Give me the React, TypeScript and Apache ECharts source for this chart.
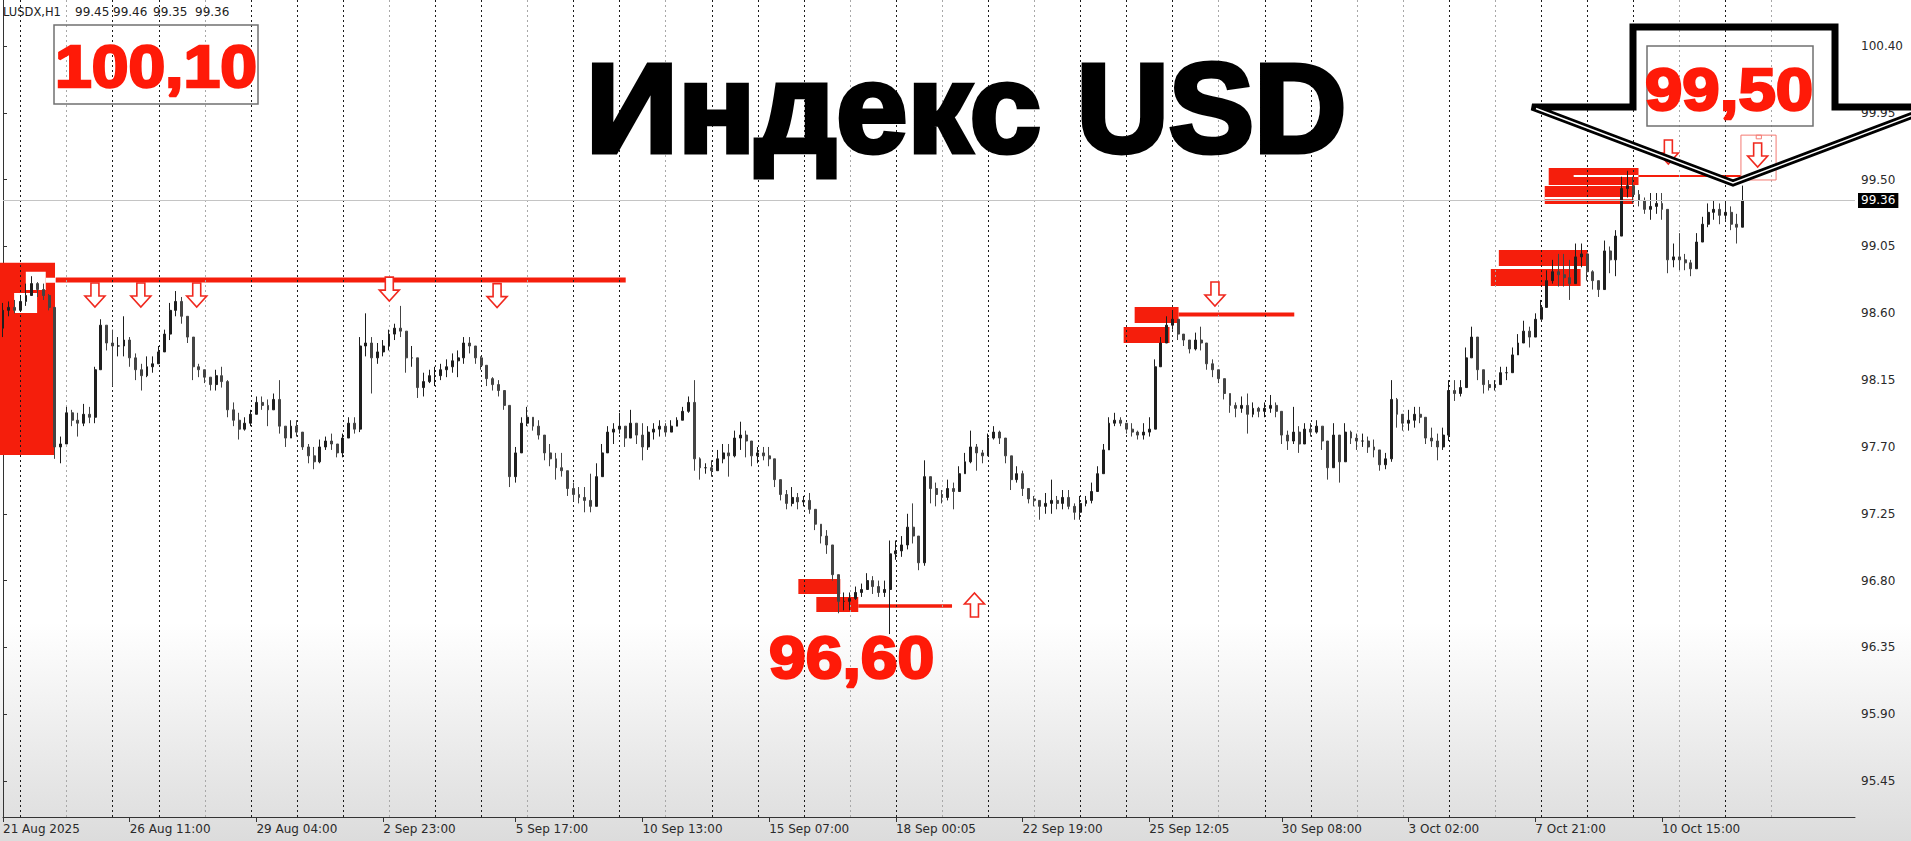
import React, { useEffect, useRef } from "react";
import * as echarts from "echarts";

// ---- price data: one candle per 3-hour slot (USDX) ----
const closes = [
  98.62, 98.64, 98.62, 98.68, 98.72, 98.80, 98.76, 98.72, 98.64, 97.70,
  97.72, 97.93, 97.88, 97.86, 97.92, 97.90, 98.22, 98.52, 98.40, 98.38,
  98.38, 98.42, 98.30, 98.22, 98.18, 98.24, 98.26, 98.34, 98.46, 98.62,
  98.68, 98.58, 98.44, 98.24, 98.22, 98.17, 98.12, 98.18, 98.14, 97.95,
  97.88, 97.82, 97.86, 97.92, 98.00, 97.98, 97.95, 98.02, 97.84, 97.76,
  97.84, 97.80, 97.70, 97.64, 97.60, 97.70, 97.74, 97.72, 97.66, 97.76,
  97.86, 97.82, 98.38, 98.40, 98.30, 98.34, 98.38, 98.46, 98.50, 98.48,
  98.30, 98.30, 98.10, 98.14, 98.18, 98.18, 98.22, 98.24, 98.28, 98.30,
  98.40, 98.38, 98.30, 98.25, 98.16, 98.12, 98.08, 97.98, 97.50, 97.66,
  97.86, 97.90, 97.84, 97.78, 97.66, 97.62, 97.56, 97.54, 97.42, 97.38,
  97.36, 97.34, 97.30, 97.50, 97.66, 97.80, 97.82, 97.84, 97.76, 97.86,
  97.78, 97.70, 97.80, 97.82, 97.84, 97.80, 97.84, 97.88, 97.94, 98.00,
  97.62, 97.56, 97.56, 97.54, 97.62, 97.66, 97.64, 97.76, 97.78, 97.74,
  97.64, 97.66, 97.64, 97.62, 97.48, 97.38, 97.32, 97.36, 97.33, 97.34,
  97.28, 97.18, 97.10, 97.04, 96.84, 96.66, 96.66, 96.68, 96.72, 96.74,
  96.80, 96.76, 96.72, 96.74, 96.98, 97.00, 97.04, 97.16, 97.10, 96.92,
  97.50, 97.42, 97.38, 97.36, 97.42, 97.40, 97.52, 97.60, 97.70, 97.66,
  97.64, 97.76, 97.80, 97.76, 97.64, 97.48, 97.52, 97.42, 97.35, 97.34,
  97.30, 97.32, 97.34, 97.32, 97.36, 97.30, 97.26, 97.32, 97.34, 97.40,
  97.52, 97.68, 97.86, 97.88, 97.86, 97.82, 97.80, 97.78, 97.80, 97.82,
  98.24, 98.40, 98.52, 98.56, 98.46, 98.42, 98.36, 98.42, 98.40, 98.26,
  98.22, 98.16, 98.06, 97.98, 97.96, 97.98, 97.92, 97.96, 97.94, 97.96,
  97.98, 97.94, 97.78, 97.74, 97.80, 97.72, 97.82, 97.80, 97.84, 97.74,
  97.56, 97.78, 97.60, 97.80, 97.76, 97.74, 97.74, 97.70, 97.68, 97.58,
  97.62, 98.02, 97.92, 97.86, 97.88, 97.92, 97.90, 97.76, 97.74, 97.70,
  97.78, 98.08, 98.06, 98.10, 98.30, 98.44, 98.22, 98.12, 98.10, 98.12,
  98.20, 98.20, 98.32, 98.40, 98.48, 98.44, 98.56, 98.64, 98.82, 98.88,
  98.86, 98.84, 98.80, 98.98, 99.00, 98.88, 98.82, 98.76, 99.02, 98.96,
  99.12, 99.44, 99.46, 99.40, 99.36, 99.30, 99.32, 99.34, 99.30, 98.96,
  98.98, 98.96, 98.94, 98.90, 99.08, 99.20, 99.28, 99.30, 99.26, 99.28,
  99.20, 99.18, 99.36,
];
const highs = [
  98.67, 98.68, 98.69, 98.71, 98.80, 98.85, 98.81, 98.80, 98.73, 98.64,
  97.77, 97.97, 97.95, 97.93, 97.99, 97.97, 98.24, 98.56, 98.51, 98.49,
  98.44, 98.58, 98.44, 98.33, 98.26, 98.31, 98.31, 98.38, 98.49, 98.67,
  98.75, 98.71, 98.58, 98.44, 98.26, 98.22, 98.17, 98.22, 98.24, 98.15,
  98.00, 97.93, 97.90, 97.95, 98.04, 98.04, 98.02, 98.06, 98.15, 97.82,
  97.88, 97.88, 97.77, 97.72, 97.70, 97.75, 97.77, 97.79, 97.72, 97.79,
  97.90, 97.90, 98.44, 98.60, 98.44, 98.40, 98.42, 98.49, 98.53, 98.65,
  98.44, 98.38, 98.24, 98.20, 98.22, 98.24, 98.26, 98.29, 98.33, 98.35,
  98.44, 98.44, 98.38, 98.31, 98.24, 98.17, 98.15, 98.06, 97.98, 97.70,
  97.90, 97.97, 97.90, 97.88, 97.75, 97.72, 97.66, 97.66, 97.48, 97.46,
  97.43, 97.43, 97.52, 97.59, 97.72, 97.84, 97.86, 97.93, 97.84, 97.95,
  97.86, 97.86, 97.84, 97.86, 97.88, 97.86, 97.88, 97.90, 97.97, 98.04,
  98.15, 97.63, 97.59, 97.61, 97.68, 97.72, 97.72, 97.81, 97.87, 97.81,
  97.72, 97.70, 97.70, 97.70, 97.59, 97.46, 97.41, 97.43, 97.39, 97.37,
  97.39, 97.28, 97.16, 97.14, 97.01, 96.84, 96.72, 96.72, 96.76, 96.78,
  96.85, 96.83, 96.80, 96.80, 97.07, 97.07, 97.10, 97.25, 97.32, 97.07,
  97.61, 97.50, 97.46, 97.41, 97.48, 97.46, 97.57, 97.66, 97.81, 97.72,
  97.68, 97.79, 97.84, 97.81, 97.72, 97.57, 97.57, 97.54, 97.37, 97.37,
  97.34, 97.39, 97.48, 97.37, 97.41, 97.41, 97.32, 97.37, 97.37, 97.46,
  97.57, 97.72, 97.90, 97.93, 97.90, 97.86, 97.86, 97.81, 97.86, 97.90,
  98.29, 98.44, 98.58, 98.62, 98.56, 98.44, 98.42, 98.47, 98.51, 98.35,
  98.29, 98.22, 98.15, 98.02, 98.00, 98.04, 98.06, 98.00, 97.97, 98.00,
  98.05, 98.00, 97.90, 97.81, 97.97, 97.84, 97.86, 97.86, 97.88, 97.84,
  97.72, 97.86, 97.72, 97.86, 97.81, 97.79, 97.79, 97.77, 97.75, 97.66,
  97.66, 98.15, 98.03, 97.92, 97.95, 97.97, 97.97, 97.86, 97.83, 97.79,
  97.83, 98.15, 98.15, 98.15, 98.37, 98.51, 98.37, 98.19, 98.15, 98.15,
  98.24, 98.24, 98.37, 98.46, 98.55, 98.51, 98.60, 98.69, 98.89, 98.96,
  99.00, 99.00, 98.96, 99.07, 99.07, 99.00, 98.89, 98.82, 99.09, 99.05,
  99.16, 99.52, 99.56, 99.52, 99.43, 99.38, 99.41, 99.41, 99.41, 99.23,
  99.07, 99.14, 99.00, 98.96, 99.14, 99.25, 99.34, 99.36, 99.34, 99.36,
  99.32, 99.27, 99.46,
];
const lows = [
  98.44, 98.58, 98.60, 98.62, 98.65, 98.73, 98.71, 98.69, 98.62, 97.62,
  97.59, 97.84, 97.84, 97.77, 97.84, 97.86, 97.86, 98.22, 98.35, 98.11,
  98.31, 98.31, 98.24, 98.15, 98.08, 98.17, 98.20, 98.26, 98.35, 98.42,
  98.58, 98.53, 98.40, 98.15, 98.17, 98.13, 98.08, 98.08, 98.10, 97.90,
  97.84, 97.75, 97.81, 97.84, 97.93, 97.95, 97.84, 97.95, 97.79, 97.70,
  97.77, 97.77, 97.68, 97.59, 97.55, 97.59, 97.68, 97.68, 97.63, 97.63,
  97.79, 97.79, 97.80, 98.31, 98.06, 98.26, 98.31, 98.35, 98.42, 98.44,
  98.20, 98.24, 98.03, 98.04, 98.13, 98.11, 98.15, 98.17, 98.20, 98.17,
  98.26, 98.33, 98.26, 98.22, 98.11, 98.08, 98.04, 97.95, 97.43, 97.46,
  97.66, 97.84, 97.81, 97.75, 97.61, 97.57, 97.48, 97.50, 97.37, 97.34,
  97.32, 97.26, 97.26, 97.34, 97.54, 97.70, 97.72, 97.79, 97.70, 97.77,
  97.72, 97.61, 97.68, 97.75, 97.77, 97.77, 97.81, 97.84, 97.88, 97.93,
  97.54, 97.48, 97.52, 97.50, 97.57, 97.59, 97.50, 97.63, 97.68, 97.63,
  97.57, 97.59, 97.61, 97.57, 97.43, 97.34, 97.28, 97.30, 97.28, 97.30,
  97.25, 97.14, 97.05, 96.98, 96.80, 96.58, 96.60, 96.60, 96.67, 96.69,
  96.74, 96.71, 96.69, 96.69, 96.44, 96.94, 96.96, 97.01, 97.05, 96.87,
  96.90, 97.32, 97.30, 97.32, 97.34, 97.28, 97.41, 97.52, 97.59, 97.54,
  97.59, 97.68, 97.75, 97.72, 97.59, 97.41, 97.46, 97.37, 97.32, 97.30,
  97.21, 97.25, 97.25, 97.28, 97.28, 97.28, 97.21, 97.21, 97.30, 97.32,
  97.46, 97.57, 97.68, 97.84, 97.84, 97.79, 97.77, 97.75, 97.75, 97.77,
  97.88, 98.26, 98.40, 98.49, 98.42, 98.38, 98.33, 98.35, 98.35, 98.22,
  98.17, 98.13, 98.02, 97.93, 97.90, 97.93, 97.79, 97.90, 97.90, 97.90,
  97.93, 97.90, 97.72, 97.68, 97.72, 97.66, 97.75, 97.77, 97.79, 97.68,
  97.48, 97.59, 97.46, 97.68, 97.72, 97.68, 97.70, 97.66, 97.63, 97.54,
  97.55, 97.60, 97.83, 97.81, 97.81, 97.83, 97.86, 97.72, 97.70, 97.61,
  97.68, 97.74, 98.01, 98.04, 98.10, 98.33, 98.15, 98.06, 98.08, 98.08,
  98.13, 98.15, 98.24, 98.33, 98.42, 98.37, 98.46, 98.58, 98.71, 98.80,
  98.78, 98.78, 98.69, 98.87, 98.91, 98.82, 98.76, 98.71, 98.80, 98.87,
  98.85, 99.20, 99.38, 99.34, 99.32, 99.27, 99.23, 99.27, 99.23, 98.87,
  98.91, 98.89, 98.89, 98.85, 98.96, 99.09, 99.18, 99.23, 99.20, 99.23,
  99.16, 99.07, 99.18,
];
const firstOpen = 98.5;

// ---- axes ----
const priceTicks = [95.45, 95.9, 96.35, 96.8, 97.25, 97.7, 98.15, 98.6, 99.05, 99.5, 99.95, 100.4];
const timeTickSlots = [0, 22, 44, 66, 89, 111, 133, 155, 177, 199, 222, 244, 266, 288];
const timeTickLabels = [
  "21 Aug 2025", "26 Aug 11:00", "29 Aug 04:00", "2 Sep 23:00", "5 Sep 17:00",
  "10 Sep 13:00", "15 Sep 07:00", "18 Sep 00:05", "22 Sep 19:00", "25 Sep 12:05",
  "30 Sep 08:00", "3 Oct 02:00", "7 Oct 21:00", "10 Oct 15:00",
];
const daySeparatorSlots = [3, 19, 27, 43, 51, 59, 75, 83, 99, 107, 123, 131, 139, 155, 171, 187, 195, 203, 219, 227, 251, 267, 275, 283, 299];
const gridSeparatorSlots = [11, 35, 67, 91, 115, 147, 163, 179, 211, 235, 243, 259, 291, 307];
const lastPrice = 99.36;
const quoteOHLC = ["99.45", "99.46", "99.35", "99.36"];

// ---- annotations (slot, price) ----
const resistanceZones = [
  [-2, 9.03, 98.94, 97.646],
  [196.45, 204.07, 98.642, 98.535],
  [194.54, 202.5, 98.508, 98.4],
  [259.67, 275.08, 99.026, 98.918],
  [258.28, 273.87, 98.898, 98.784],
  [268.33, 283.92, 99.578, 99.464],
  [267.64, 283.05, 99.457, 99.336],
];
const supportZones = [
  [138.07, 145.35, 96.811, 96.71],
  [141.19, 148.47, 96.69, 96.589],
];
const whiteMarks = [
  [3.96, 7.42, 98.88, 98.757],
  [1.93, 5.92, 98.737, 98.602],
  [7.42, 9.15, 98.84, 98.806],
  [272.66, 283.92, 99.532, 99.518],
  [267.64, 283.05, 99.383, 99.369],
];
const levelLines = [
  [9.15, 108.1, 98.824],
  [204.07, 224.16, 98.592],
  [148.47, 164.75, 96.629],
  [283.92, 301.7, 99.525],
];
const sellArrows = [
  [15.96, 98.804], [23.93, 98.804], [33.63, 98.804], [67.06, 98.844], [85.77, 98.8],
  [210.39, 98.811], [289.1, 99.767], [304.6, 99.747],
];
const buyArrows = [[168.64, 96.555]];
const signalFrames = [
  [301.7, 307.8, 99.8, 99.498],
  [304.35, 305.25, 99.8, 99.775],
];
const levelLabels = ["100,10", "99,50", "96,60"];

const RED = "#f51e0c";
const LINE_WIDTHS = [5, 4, 3.5, 2];

function rectRenderer(fill: string, stroke?: string) {
  return (params: any, api: any) => {
    const a = api.coord([api.value(0), api.value(2)]);
    const b = api.coord([api.value(1), api.value(3)]);
    return {
      type: "rect",
      shape: {
        x: Math.min(a[0], b[0]),
        y: Math.min(a[1], b[1]),
        width: Math.abs(b[0] - a[0]),
        height: Math.abs(b[1] - a[1]),
      },
      style: stroke ? { fill: "none", stroke, lineWidth: 1 } : { fill },
    };
  };
}

function separatorRenderer(color: string) {
  return (params: any, api: any) => {
    const p = api.coord([api.value(0), 98]);
    const x = Math.round(p[0]) + 0.5;
    const cs = params.coordSys;
    return {
      type: "line",
      shape: { x1: x, y1: cs.y, x2: x, y2: cs.y + cs.height },
      style: { stroke: color, lineWidth: 1, lineDash: [2, 3] },
    };
  };
}

function arrowRenderer(dir: number) {
  return (params: any, api: any) => {
    const p = api.coord([api.value(0), api.value(1)]);
    const x = p[0];
    const y = p[1];
    const d = dir;
    return {
      type: "polygon",
      shape: {
        points: [
          [x - 4, y], [x + 4, y], [x + 4, y + 13 * d], [x + 10, y + 13 * d],
          [x, y + 24 * d], [x - 10, y + 13 * d], [x - 4, y + 13 * d],
        ],
      },
      style: { fill: "#fff", stroke: "#f0281e", lineWidth: 1.6 },
    };
  };
}

export default function App() {
  const ref = useRef<HTMLDivElement>(null);

  useEffect(() => {
    document.body.style.margin = "0";
    if (!ref.current) return;
    const chart = echarts.init(ref.current, null, { renderer: "svg" });

    const candleData = closes.map((c, i) => {
      const o = i === 0 ? firstOpen : closes[i - 1];
      return [i, o, c, Math.min(lows[i], o, c), Math.max(highs[i], o, c)];
    });

    const axisFont = { fontFamily: "DejaVu Sans", fontSize: 12, color: "#2a2a2a" };

    chart.setOption({
      animation: false,
      backgroundColor: {
        type: "linear", x: 0, y: 0, x2: 0, y2: 1,
        colorStops: [
          { offset: 0, color: "#ffffff" },
          { offset: 0.74, color: "#ffffff" },
          { offset: 1, color: "#dcdcdc" },
        ],
      },
      grid: { left: -1.15, right: 56, top: 0, bottom: 24, containLabel: false },
      xAxis: {
        type: "value",
        min: 0,
        max: 321.5,
        splitLine: { show: false },
        axisLine: { show: true, lineStyle: { color: "#333", width: 1 } },
        axisTick: { show: true, customValues: timeTickSlots, length: 5, lineStyle: { color: "#333" } },
        axisLabel: {
          ...axisFont,
          customValues: timeTickSlots,
          align: "left",
          margin: 6,
          formatter: (v: number) => {
            const k = timeTickSlots.indexOf(v);
            return k >= 0 ? timeTickLabels[k] : "";
          },
        },
      },
      yAxis: {
        type: "value",
        position: "right",
        min: 95.208,
        max: 100.71,
        scale: true,
        splitLine: { show: false },
        axisLine: { show: true, lineStyle: { color: "#333", width: 1 } },
        axisTick: { show: true, customValues: priceTicks, length: 4, lineStyle: { color: "#333" } },
        axisLabel: {
          ...axisFont,
          customValues: priceTicks,
          align: "left",
          margin: 6,
          formatter: (v: number) => v.toFixed(2),
        },
      },
      series: [
        {
          type: "custom",
          name: "zones",
          renderItem: rectRenderer(RED),
          data: [...resistanceZones, ...supportZones],
          encode: { x: [0, 1], y: [2, 3] },
          z: 1,
          silent: true,
        },
        {
          type: "custom",
          name: "marks",
          renderItem: rectRenderer("#ffffff"),
          data: whiteMarks,
          encode: { x: [0, 1], y: [2, 3] },
          z: 1,
          silent: true,
        },
        {
          type: "custom",
          name: "levels",
          renderItem: (params: any, api: any) => {
            const a = api.coord([api.value(0), api.value(2)]);
            const b = api.coord([api.value(1), api.value(2)]);
            const w = LINE_WIDTHS[params.dataIndex] || 3;
            return {
              type: "rect",
              shape: { x: a[0], y: a[1] - w / 2, width: b[0] - a[0], height: w },
              style: { fill: RED },
            };
          },
          data: levelLines,
          encode: { x: [0, 1], y: 2 },
          z: 1,
          silent: true,
        },
        {
          type: "custom",
          name: "daySeparators",
          renderItem: separatorRenderer("#1a1a1a"),
          data: daySeparatorSlots.map((s) => [s]),
          encode: { x: 0 },
          z: 1,
          silent: true,
        },
        {
          type: "custom",
          name: "gridSeparators",
          renderItem: separatorRenderer("#a8a8a8"),
          data: gridSeparatorSlots.map((s) => [s]),
          encode: { x: 0 },
          z: 1,
          silent: true,
        },
        {
          type: "candlestick",
          name: "USDX,H1",
          data: candleData,
          encode: { x: 0, y: [1, 2, 3, 4] },
          barWidth: 2.4,
          z: 2,
          itemStyle: {
            color: "#1e1e1e",
            color0: "#444444",
            borderColor: "#1e1e1e",
            borderColor0: "#444444",
            borderWidth: 1,
          },
          markLine: {
            silent: true,
            symbol: "none",
            lineStyle: { color: "#c4c4c4", type: "solid", width: 1 },
            label: {
              show: true,
              position: "end",
              distance: 3,
              formatter: () => lastPrice.toFixed(2),
              backgroundColor: "#000",
              color: "#fff",
              fontFamily: "DejaVu Sans",
              fontSize: 12,
              padding: [2, 3, 1, 3],
            },
            data: [{ yAxis: lastPrice }],
          },
        },
        {
          type: "custom",
          name: "frames",
          renderItem: rectRenderer("none", "#f47a72"),
          data: signalFrames,
          encode: { x: [0, 1], y: [2, 3] },
          z: 3,
          silent: true,
        },
        {
          type: "custom",
          name: "sell",
          renderItem: arrowRenderer(1),
          data: sellArrows,
          encode: { x: 0, y: 1 },
          z: 4,
          silent: true,
        },
        {
          type: "custom",
          name: "buy",
          renderItem: arrowRenderer(-1),
          data: buyArrows,
          encode: { x: 0, y: 1 },
          z: 4,
          silent: true,
        },
      ],
      graphic: [
        {
          type: "text", x: 3, y: 12, z: 100,
          style: { text: "LUSDX,H1", fontFamily: "DejaVu Sans", fontSize: 11.5, fill: "#222", textVerticalAlign: "middle" },
        },
        ...quoteOHLC.map((q, i) => ({
          type: "text", x: [75, 113, 153, 195][i], y: 12, z: 100,
          style: { text: q, fontFamily: "DejaVu Sans", fontSize: 12, fill: "#222", textVerticalAlign: "middle" },
        })),
        {
          type: "rect", z: 100,
          shape: { x: 54, y: 25, width: 204, height: 79 },
          style: { fill: "none", stroke: "#707070", lineWidth: 1.5 },
        },
        {
          type: "rect", z: 100,
          shape: { x: 1647, y: 46, width: 166, height: 80 },
          style: { fill: "none", stroke: "#707070", lineWidth: 1.5 },
        },
        {
          type: "text", x: 55, y: 66, scaleX: 1.1, z: 100,
          style: {
            text: levelLabels[0], fontFamily: "Liberation Sans", fontWeight: "bold", fontSize: 60,
            fill: "#ff1a08", stroke: "#ff1a08", lineWidth: 2.5, textVerticalAlign: "middle",
          },
        },
        {
          type: "text", x: 1645, y: 89, scaleX: 1.12, z: 100,
          style: {
            text: levelLabels[1], fontFamily: "Liberation Sans", fontWeight: "bold", fontSize: 60,
            fill: "#ff1a08", stroke: "#ff1a08", lineWidth: 2.5, textVerticalAlign: "middle",
          },
        },
        {
          type: "text", x: 769, y: 657, scaleX: 1.1, z: 100,
          style: {
            text: levelLabels[2], fontFamily: "Liberation Sans", fontWeight: "bold", fontSize: 60,
            fill: "#ff1a08", stroke: "#ff1a08", lineWidth: 2.5, textVerticalAlign: "middle",
          },
        },
        {
          type: "text", x: 586, y: 108, scaleX: 1.015, z: 100,
          style: {
            text: "Индекс USD", fontFamily: "Liberation Sans", fontWeight: "bold", fontSize: 126,
            fill: "#000", stroke: "#000", lineWidth: 5, textVerticalAlign: "middle",
          },
        },
        {
          type: "polygon", z: 101,
          shape: {
            points: [
              [1633, 27], [1835, 27], [1835, 107], [1934, 107],
              [1733, 183], [1532, 107], [1633, 107],
            ],
          },
          style: { fill: "none", stroke: "#000", lineWidth: 7, lineJoin: "miter" },
        },
        {
          type: "polyline", z: 102,
          shape: { points: [[1536, 108.5], [1733, 183], [1930, 108.5]] },
          style: { fill: "none", stroke: "#fff", lineWidth: 1.4 },
        },
      ],
    });

    return () => chart.dispose();
  }, []);

  return <div ref={ref} style={{ width: 1911, height: 841 }} />;
}
